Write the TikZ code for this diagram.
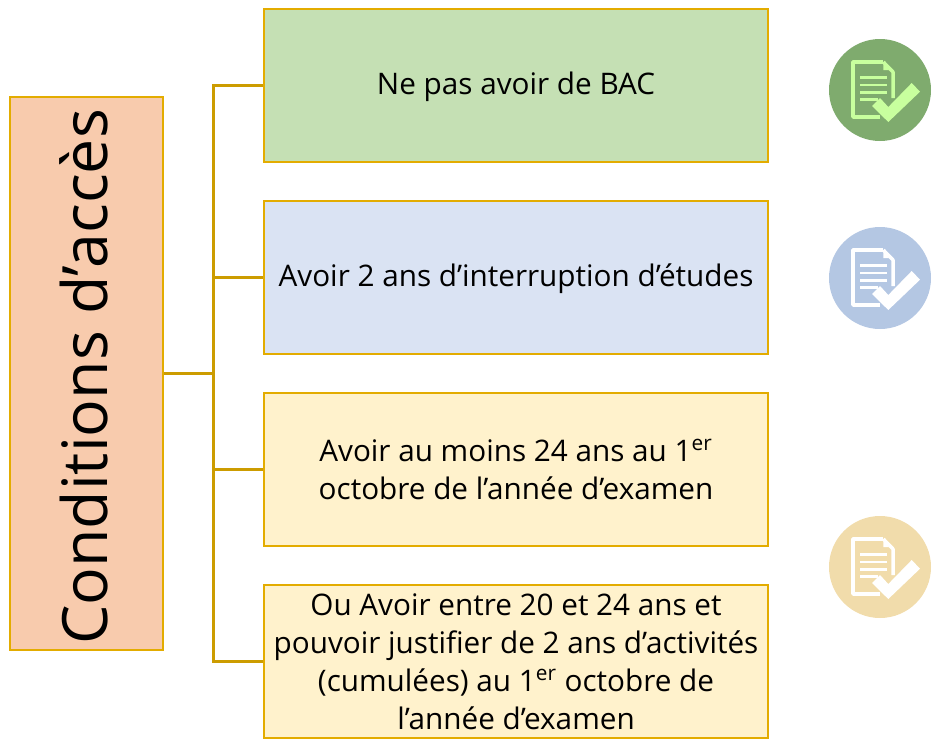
\documentclass[tikz,border=0pt]{standalone}
\usepackage{fontspec}
\setmainfont{Open Sans}
\usetikzlibrary{positioning}
\definecolor{boxline}{HTML}{E3AC00}
\definecolor{linkline}{HTML}{CC9C00}
\definecolor{boxorange}{HTML}{F8CBAD}
\definecolor{boxgreen}{HTML}{C5E0B4}
\definecolor{boxblue}{HTML}{DAE3F3}
\definecolor{boxyellow}{HTML}{FFF2CC}
\definecolor{icongreen}{HTML}{7FAB6E}
\definecolor{markgreen}{HTML}{C8FF9E}
\definecolor{iconblue}{HTML}{B4C7E3}
\definecolor{iconyellow}{HTML}{F1DCAB}
\tikzset{
  condbox/.style={draw=boxline,line width=1.2pt,minimum width=10.08cm,minimum height=3.06cm,inner sep=0pt,align=center,text=black,font=\fontsize{16.9}{21.6}\selectfont},
  oneline/.style={text height=10.2pt,text depth=0pt},
  linkline/.style={draw=linkline,line width=1.15pt},
  pics/checkdoc/.style n args={2}{code={
    \fill[#1] (0,0) circle (51);
    \draw[#2,line width=2pt,line join=round] (3.3,-28) -- (-27,-28) -- (-27,27) -- (0,27);
    \draw[#2,line width=2pt,line join=round] (3.3,-28) -- (13,-18) -- (13,8);
    \fill[#2] (3.3,-27) -- (9,-20) -- (3.3,-20) -- cycle;
    \draw[#2,line width=1.6pt] (-20,-12.3) -- (6.7,-12.3);
    \draw[#2,line width=1.6pt] (-20,-5) -- (6.7,-5);
    \draw[#2,line width=1.6pt] (-20,2.3) -- (6.7,2.3);
    \draw[#2,line width=1.6pt] (-20,9.3) -- (-2,9.3);
    \fill[#2] (-8,16) -- (0,8) -- (8.3,17) -- (31.7,-7) -- (40,1.7) -- (8.3,32) -- cycle;
  }},
}
\begin{document}
\begin{tikzpicture}[x=0.02cm,y=-0.02cm]
\useasboundingbox (0,0) rectangle (940,747);
% left box
\node[draw=boxline,line width=1.2pt,fill=boxorange,minimum width=3.06cm,minimum height=11.06cm,inner sep=0pt] (cond) at (86.5,373.5) {};
\node[rotate=90,font=\fontsize{35.6}{44}\selectfont,text=black,xshift=-0.07cm,yshift=0.06cm] (condtext) at (cond.center) {Conditions d’accès};
% right boxes
\node[condbox,oneline,fill=boxgreen] (bac) at (516,85.5) {Ne pas avoir de BAC};
\node[condbox,oneline,fill=boxblue] (interruption) at (516,277.5) {Avoir 2 ans d’interruption d’études};
\node[condbox,fill=boxyellow] (age) at (516,469.5) {Avoir au moins 24 ans au 1\textsuperscript{er}\\octobre de l’année d’examen};
\node[condbox,fill=boxyellow] (activity) at (516,661.5) {Ou Avoir entre 20 et 24 ans et\\pouvoir justifier de 2 ans d’activités\\(cumulées) au 1\textsuperscript{er} octobre de\\l’année d’examen};
% links
\coordinate (trunk) at (213.5,373.5);
\draw[linkline] (cond.east) -- (trunk);
\draw[linkline] (trunk) |- (bac.west);
\draw[linkline] (trunk) |- (interruption.west);
\draw[linkline] (trunk) |- (age.west);
\draw[linkline] (trunk) |- (activity.west);
% icons
\pic at (880,90) {checkdoc={icongreen}{markgreen}};
\pic at (880,278) {checkdoc={iconblue}{white}};
\pic at (880,567) {checkdoc={iconyellow}{white}};
\end{tikzpicture}
\end{document}
